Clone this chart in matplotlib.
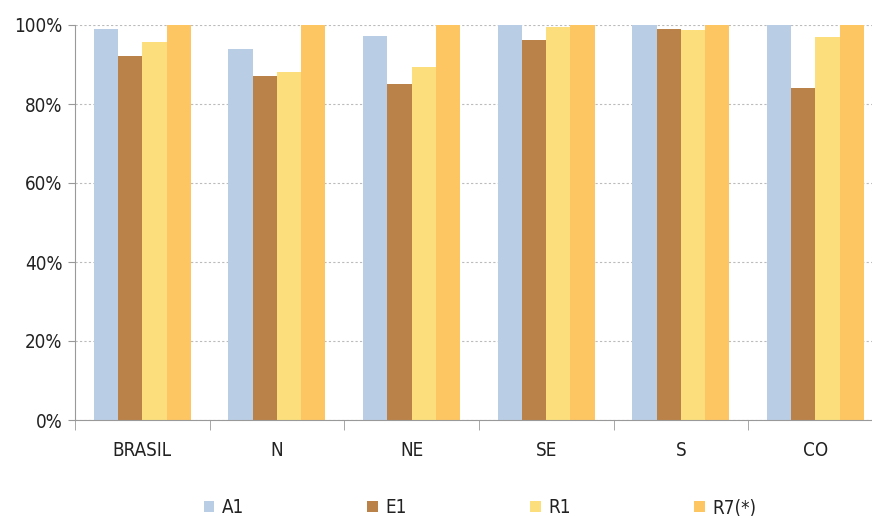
import numpy as np
import matplotlib.pyplot as plt
from matplotlib import font_manager

regions = ["BRASIL", "N", "NE", "SE", "S", "CO"]
a1 = [99.0, 93.9, 97.2, 100, 100, 100]
e1 = [92.1, 87.0, 85.1, 96.1, 99.0, 84.1]
r1 = [95.6, 88.1, 89.4, 99.6, 98.7, 97.0]
r7 = [100, 100, 100, 100, 100, 100]
series_names = ["A1", "E1", "R1", "R7(*)"]
colors = ["#B9CDE5", "#BA8249", "#FCDF7C", "#FDC662"]

names = {f.name for f in font_manager.fontManager.ttflist}
fam = "Liberation Sans Narrow" if "Liberation Sans Narrow" in names else "DejaVu Sans"
plt.rcParams['font.family'] = [fam, 'DejaVu Sans']
plt.rcParams['font.stretch'] = 'condensed'
plt.rcParams['text.color'] = '#222222'

fig = plt.figure(figsize=(8.72, 5.16), dpi=100)
ax = fig.add_axes([75/872, 96/516, 797/872, 395/516])

x = np.arange(len(regions))
w = 0.18
for i, (vals, name, c) in enumerate(zip([a1, e1, r1, r7], series_names, colors)):
    ax.bar(x + (i - 1.5) * w, vals, width=w, color=c, label=name, zorder=2)

ax.set_ylim(0, 100)
ax.set_xlim(-0.5, 5.42)
ax.set_yticks([0, 20, 40, 60, 80, 100])
ax.set_yticklabels(["0%", "20%", "40%", "60%", "80%", "100%"], fontsize=13.5, color='#222222')
ax.set_xticks(x)
ax.set_xticklabels(regions, fontsize=13.5, color='#222222')
ax.set_xticks(np.arange(-0.5, 5.5, 1), minor=True)
ax.tick_params(axis='x', which='major', length=0, pad=15)
ax.tick_params(axis='x', which='minor', length=7, color='#999999', direction='out')
ax.tick_params(axis='y', length=5, color='#999999', pad=4)
ax.grid(axis='y', linestyle=(0, (2, 2)), color='#BBBBBB', linewidth=0.8, zorder=0)
for s in ['top', 'right']:
    ax.spines[s].set_visible(False)
for s in ['left', 'bottom']:
    ax.spines[s].set_color('#999999')

ax.legend(loc='center', bbox_to_anchor=(0.508, -0.222), ncol=4, frameon=False,
          fontsize=13.5, handlelength=0.55, handleheight=0.55, handletextpad=0.4,
          columnspacing=6.6)

fig.savefig("out.png", dpi=100)
